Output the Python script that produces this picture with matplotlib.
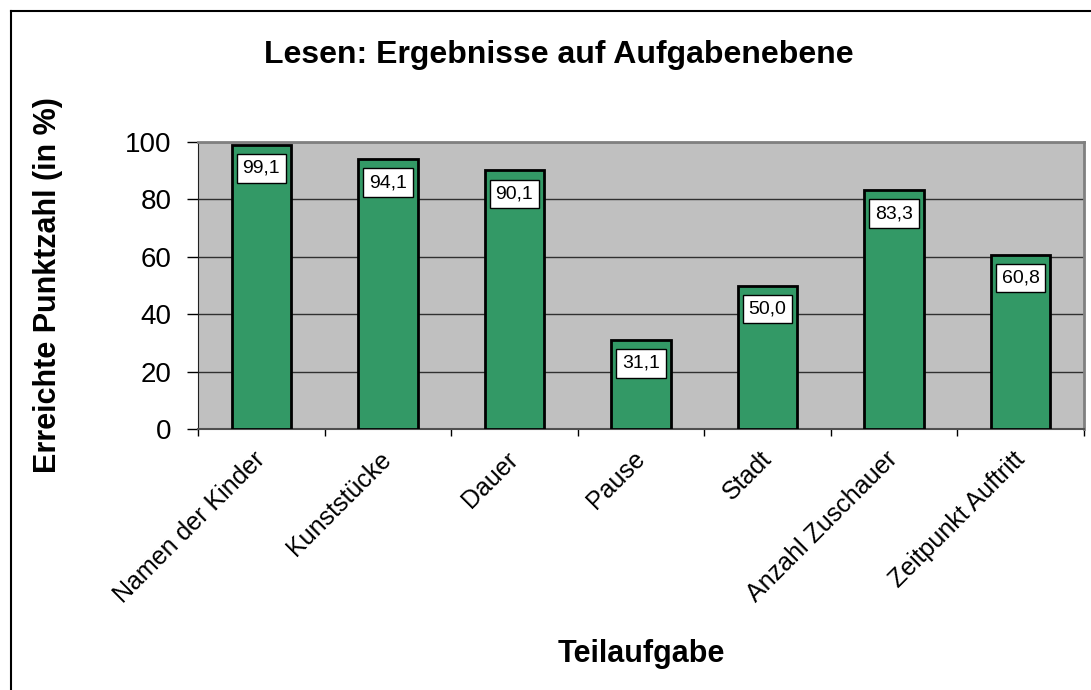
import matplotlib.pyplot as plt
from matplotlib.lines import Line2D

plt.rcParams['font.family'] = ['Liberation Sans', 'DejaVu Sans']

categories = ["Namen der Kinder", "Kunststücke", "Dauer", "Pause", "Stadt",
              "Anzahl Zuschauer", "Zeitpunkt Auftritt"]
values = [99.1, 94.1, 90.1, 31.1, 50.0, 83.3, 60.8]
value_labels = ["99,1", "94,1", "90,1", "31,1", "50,0", "83,3", "60,8"]
yticks = [0, 20, 40, 60, 80, 100]

W, H = 1091, 690
fig = plt.figure(figsize=(W / 100, H / 100), dpi=100)
ax = fig.add_axes([198 / W, 1 - 429 / H, 886 / W, 287 / H])
ax.set_facecolor("#C0C0C0")

x = list(range(len(categories)))
ax.bar(x, values, width=0.47, color="#339966", edgecolor="black", linewidth=2, zorder=3)

for xi, v, lab in zip(x, values, value_labels):
    ax.annotate(lab, (xi, v), xytext=(0, -17), textcoords="offset points",
                ha="center", va="center", fontsize=14, zorder=4,
                bbox=dict(boxstyle="square,pad=0.3", fc="white", ec="black", lw=1))

ax.set_xlim(-0.5, len(categories) - 0.5)
ax.set_ylim(0, 100)
ax.set_yticks(yticks)
ax.set_yticklabels([str(t) for t in yticks], fontsize=20)
ax.yaxis.grid(True, color="#303030", linewidth=1, zorder=1)
ax.set_axisbelow(True)

# ticks at category boundaries, labels at centres
ax.set_xticks([i - 0.5 for i in range(len(categories) + 1)])
ax.set_xticklabels([])
ax.set_xticks(x, minor=True)
ax.set_xticklabels(categories, minor=True, rotation=45, ha="right", va="center",
                   rotation_mode="anchor", fontsize=18)
ax.tick_params(axis="x", which="major", length=5, width=1, direction="out")
ax.tick_params(axis="x", which="minor", length=0, pad=19)
ax.tick_params(axis="y", length=8, width=1, direction="out", pad=11)

for s in ["top", "right"]:
    ax.spines[s].set_color("#808080")
    ax.spines[s].set_linewidth(2)
ax.spines["left"].set_color("#202020")
ax.spines["bottom"].set_color("#505050")
ax.spines["bottom"].set_linewidth(1.5)

fig.text(48 / W, 1 - 285 / H, "Erreichte Punktzahl (in %)", rotation=90,
         ha="center", va="center", fontsize=22, fontweight="bold")
fig.text(641 / W, 1 - 662 / H, "Teilaufgabe",
         ha="center", va="baseline", fontsize=22, fontweight="bold")
fig.text(559 / W, 1 - 63 / H, "Lesen: Ergebnisse auf Aufgabenebene",
         ha="center", va="baseline", fontsize=23, fontweight="bold")

# outer chart border (cut off at right and bottom)
fig.add_artist(Line2D([11 / W, 11 / W], [1 - 11 / H, 0], color="black", lw=1.5))
fig.add_artist(Line2D([11 / W, 1], [1 - 11 / H, 1 - 11 / H], color="black", lw=1.5))

fig.savefig("out.png", dpi=100)
